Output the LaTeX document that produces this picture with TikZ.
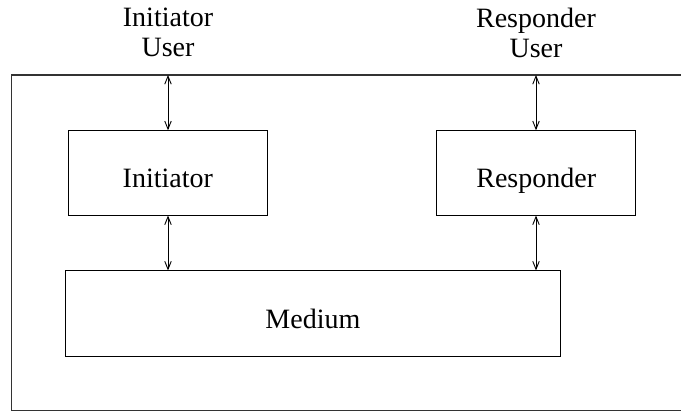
\documentclass[tikz,border=0pt]{standalone}
\usepackage{fontspec}
\setmainfont{Liberation Serif}
\usetikzlibrary{arrows.meta}
\begin{document}
\begin{tikzpicture}[x=1pt,y=-1pt,
  lbl/.style={font=\fontsize{28}{30}\selectfont, inner sep=0pt},
  block/.style={draw, line width=1pt, inner sep=0pt,
    font=\fontsize{28}{30}\selectfont, text height=29.6pt, text depth=0pt},
  link/.style={line width=0.9pt, {Straight Barb[length=8pt,width=6.5pt]}-{Straight Barb[length=8pt,width=6.5pt]}},
  frame/.style={line width=1.1pt, draw=black!80}]
  \useasboundingbox (0,0) rectangle (681,412);
  \fill[white] (0,0) rectangle (681,412);
  \begin{scope}
    \clip (0,0) rectangle (681,412);
    % open system frame, its right side runs off the page
    \draw[frame] (700,75) -- (11.8,75) -- (11.8,410.8) -- (700,410.8);
  \end{scope}

  % users outside the frame
  \node[lbl, align=center] (iuser) at (168,32.5) {Initiator\\User};
  \node[lbl, align=center] (ruser) at (536,32.5) {Responder\\User};
  \coordinate (itop) at (168,75);
  \coordinate (rtop) at (536,75);

  % protocol entities
  \node[block, minimum width=199pt, minimum height=84.3pt] (ini) at (167.8,172.9) {Initiator};
  \node[block, minimum width=199pt, minimum height=84.3pt] (res) at (536.2,172.9) {Responder};
  \node[block, minimum width=494.3pt, minimum height=85.7pt] (med) at (312.9,313.8) {Medium};

  % interfaces
  \draw[link] (itop) -- (itop |- ini.north);
  \draw[link] (rtop) -- (rtop |- res.north);
  \draw[link] (itop |- ini.south) -- (itop |- med.north);
  \draw[link] (rtop |- res.south) -- (rtop |- med.north);
\end{tikzpicture}
\end{document}
